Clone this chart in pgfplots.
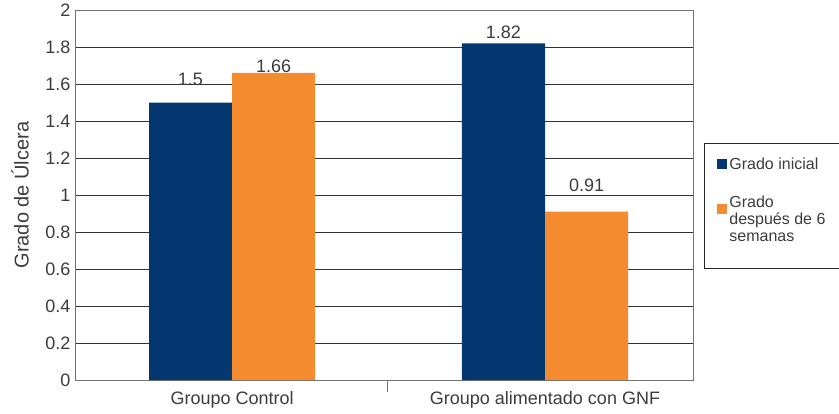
\documentclass[border=0pt]{standalone}
\usepackage{pgfplots}
\pgfplotsset{compat=1.18}
\usepackage{fontspec}
\setmainfont{Liberation Sans}
\definecolor{azul}{HTML}{04376F}
\definecolor{naranja}{HTML}{F58B2F}
\definecolor{texto}{HTML}{3C3C3C}
\begin{document}
\begin{tikzpicture}
\begin{axis}[
  name=ax,
  scale only axis,
  width=618pt, height=370pt,
  ybar=0pt, bar width=83pt,
  ymin=0, ymax=2,
  ytick={0,0.2,0.4,0.6,0.8,1,1.2,1.4,1.6,1.8,2},
  xmin=-0.502, xmax=1.473,
  xtick={0,1},
  xticklabels={Groupo Control, Groupo alimentado con GNF},
  tick pos=left,
  xtick style={draw=none},
  ytick style={draw=none},
  extra x ticks={0.495},
  extra x tick labels={},
  extra x tick style={tick align=outside, major tick length=12pt,
    xtick style={draw=gray!90!black, line width=0.8pt}, grid=none},
  ymajorgrids,
  major grid style={black!80, line width=0.8pt},
  axis line style={gray!90!black, line width=0.8pt},
  /pgf/number format/assume math mode=true,
  tick label style={font=\fontsize{18}{21}\selectfont, text=texto},
  xticklabel style={yshift=-4pt},
  yticklabel style={xshift=-1pt},
  legend style={at={(1,0.64)}, xshift=11pt, anchor=north west,
    draw=black!85, line width=0.8pt,
    font=\fontsize{16}{19}\selectfont, text=texto,
    inner xsep=13pt, inner ysep=12pt, row sep=20pt,
    cells={anchor=west}},
  clip=false,
]
\addplot[fill=azul, draw=none,
  legend image code/.code={\fill[azul] (0pt,-5pt) rectangle (10pt,5pt);}]
  coordinates {(0,1.5) (1,1.82)};
\addlegendentry{Grado inicial\hspace*{8pt}}
\addplot[fill=naranja, draw=none,
  legend image code/.code={\fill[naranja] (0pt,10pt) rectangle (10pt,20pt);}]
  coordinates {(0,1.66) (1,0.91)};
\addlegendentry{\begin{tabular}{@{}l@{}}Grado\\[-2pt] después de 6\\[-2pt] semanas\\[54pt]\end{tabular}}

\node[font=\fontsize{18}{21}\selectfont, text=texto] at (axis cs:-0.133,1.627) {1.5};
\node[font=\fontsize{18}{21}\selectfont, text=texto] at (axis cs:0.133,1.697) {1.66};
\node[font=\fontsize{18}{21}\selectfont, text=texto] at (axis cs:0.867,1.881) {1.82};
\node[font=\fontsize{18}{21}\selectfont, text=texto] at (axis cs:1.133,1.054) {0.91};
\end{axis}
\node[rotate=90, font=\fontsize{20}{24}\selectfont, text=texto] at ([xshift=-55pt]ax.west) {Grado de Úlcera};
\pgfresetboundingbox
\path ([shift={(-75pt,-33pt)}]ax.south west) rectangle ([shift={(146pt,10pt)}]ax.north east);
\end{tikzpicture}
\end{document}
